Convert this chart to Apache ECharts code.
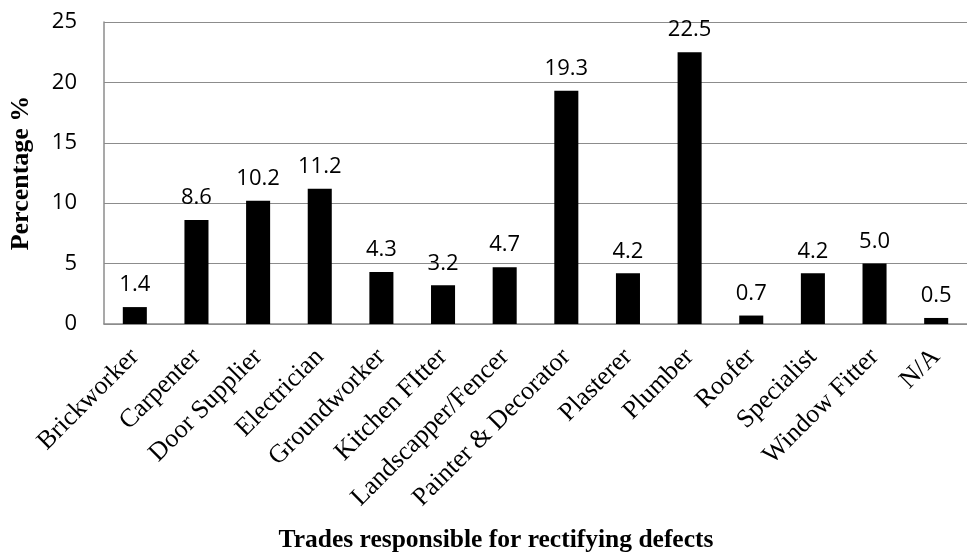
<!DOCTYPE html>
<html><head><meta charset="utf-8">
<script src="https://cdn.jsdelivr.net/npm/echarts@6/dist/echarts.min.js"></script>
<style>html,body{margin:0;padding:0;background:#fff}#c{width:967px;height:558px}</style>
</head><body><div id="c"></div>
<script>
const categories = ['Brickworker','Carpenter','Door Supplier','Electrician','Groundworker','Kitchen FItter','Landscapper/Fencer','Painter & Decorator','Plasterer','Plumber','Roofer','Specialist','Window Fitter','N/A'];
const percentages = [1.4, 8.6, 10.2, 11.2, 4.3, 3.2, 4.7, 19.3, 4.2, 22.5, 0.7, 4.2, 5.0, 0.5];
const yTicks = [0, 5, 10, 15, 20, 25];
const xTitle = 'Trades responsible for rectifying defects';
const yTitle = 'Percentage %';

const chart = echarts.init(document.getElementById('c'));
chart.setOption({
  animation: false,
  grid: { left: 102.6, right: -6.4, top: 22, bottom: 234 },
  xAxis: {
    type: 'category', data: categories,
    axisLine: { show: true, lineStyle: { color: '#8c8c8c', width: 1.5 } },
    axisTick: { show: false },
    axisLabel: { interval: 0, rotate: 45, fontFamily: 'Liberation Serif', fontSize: 26, color: '#000', margin: 29 }
  },
  yAxis: {
    type: 'value', min: yTicks[0], max: yTicks[yTicks.length-1], interval: 5,
    axisLine: { show: true, lineStyle: { color: '#8c8c8c', width: 1.5 } },
    axisTick: { show: false },
    splitLine: { lineStyle: { color: '#8c8c8c', width: 1.2 } },
    axisLabel: { fontFamily: 'Open Sans', fontSize: 22, color: '#000', margin: 27 },
    name: yTitle, nameLocation: 'middle', nameGap: 70,
    nameTextStyle: { fontFamily: 'Liberation Serif', fontWeight: 'bold', fontSize: 26, color: '#000' }
  },
  graphic: [{
    type: 'text', x: 496, y: 540,
    style: { text: xTitle, font: 'bold 25.5px "Liberation Serif"', fill: '#000', textAlign: 'center', textVerticalAlign: 'middle' }
  }],
  series: [{
    type: 'bar', data: percentages, barWidth: '39%',
    itemStyle: { color: '#000' },
    label: { show: true, position: 'top', distance: 11, fontFamily: 'Open Sans', fontSize: 22, color: '#000',
      formatter: p => p.value.toFixed(1) }
  }]
});
</script></body></html>
